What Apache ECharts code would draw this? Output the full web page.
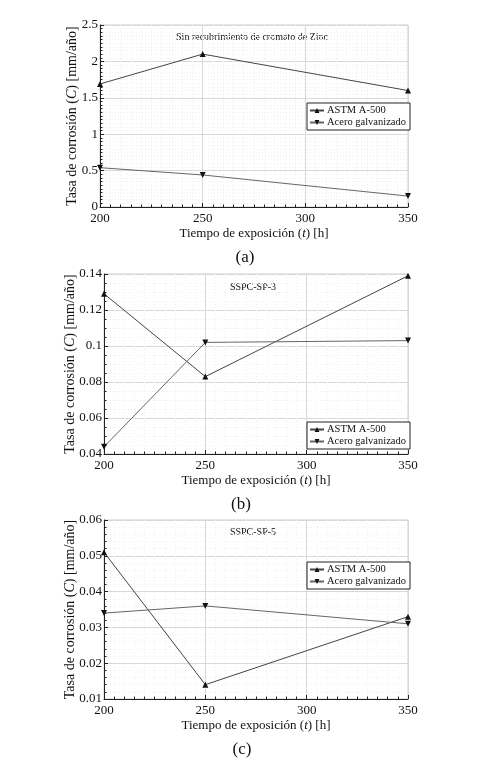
<!DOCTYPE html>
<html>
<head>
<meta charset="utf-8">
<script src="https://cdn.jsdelivr.net/npm/echarts@6/dist/echarts.min.js"></script>
<style>
html,body{margin:0;padding:0;background:#fff;}
#chart{width:491px;height:767px;}
</style>
</head>
<body>
<div id="chart"></div>
<script>
const times = [200, 250, 350];
const astmA = [1.69, 2.10, 1.60];
const galvA = [0.54, 0.44, 0.15];
const astmB = [0.129, 0.083, 0.139];
const galvB = [0.044, 0.102, 0.103];
const astmC = [0.051, 0.014, 0.033];
const galvC = [0.034, 0.036, 0.031];
const seriesNames = ['ASTM A-500', 'Acero galvanizado'];
const subtitles = ['Sin recubrimiento de cromato de Zinc', 'SSPC-SP-3', 'SSPC-SP-5'];
const panelLabels = ['(a)', '(b)', '(c)'];
const xTitle = 'Tiempo de exposición ({i|t}) [h]';
const yTitle = 'Tasa de corrosión ({i|C}) [mm/año]';
const yRanges = [[0, 2.5, 0.5, 10], [0.04, 0.14, 0.02, 4], [0.01, 0.06, 0.01, 5]];

const FONT = 'Liberation Serif';
const grids = [
  {left: 100, right: 83, top: 25, height: 182},
  {left: 104, right: 83, top: 274, height: 180},
  {left: 104, right: 83, top: 520, height: 179}
];
const yNameGaps = [21, 27, 27];

function xAxis(i) {
  return {
    type: 'value', gridIndex: i, min: 200, max: 350, interval: 50,
    name: xTitle, nameLocation: 'middle', nameGap: 20, nameMoveOverlap: false,
    nameTextStyle: {fontFamily: FONT, fontSize: 13, color: '#111', rich: {i: {fontFamily: FONT, fontSize: 13, fontStyle: 'italic', color: '#111'}}},
    axisLine: {show: true, onZero: false, lineStyle: {color: '#222', width: 1}},
    axisTick: {show: true, inside: true, length: 4, lineStyle: {color: '#222'}},
    minorTick: {show: true, splitNumber: 10, length: 2.5, lineStyle: {color: '#222'}},
    axisLabel: {fontFamily: FONT, fontSize: 13, color: '#111', margin: 5},
    splitLine: {show: true, lineStyle: {color: '#d8d8d8', width: 1}},
    minorSplitLine: {show: true, lineStyle: {color: '#f0f0f0', type: [1, 2], width: 1}}
  };
}
function yAxis(i) {
  const r = yRanges[i];
  return {
    type: 'value', gridIndex: i, min: r[0], max: r[1], interval: r[2],
    name: yTitle, nameLocation: 'middle', nameGap: yNameGaps[i], nameMoveOverlap: false,
    nameTextStyle: {fontFamily: FONT, fontSize: 14, color: '#111', rich: {i: {fontFamily: FONT, fontSize: 14, fontStyle: 'italic', color: '#111'}}},
    axisLine: {show: true, onZero: false, lineStyle: {color: '#222', width: 1}},
    axisTick: {show: true, inside: true, length: 4, lineStyle: {color: '#222'}},
    minorTick: {show: true, splitNumber: r[3], length: 2.5, lineStyle: {color: '#222'}},
    axisLabel: {fontFamily: FONT, fontSize: 13, color: '#111', margin: 2},
    splitLine: {show: true, lineStyle: {color: '#d8d8d8', width: 1}},
    minorSplitLine: {show: true, lineStyle: {color: '#f0f0f0', type: [1, 2], width: 1}}
  };
}
function pairs(vals) { return times.map((t, k) => [t, vals[k]]); }
function lineSeries(i, name, vals, down, color) {
  return {
    type: 'line', name: name, xAxisIndex: i, yAxisIndex: i,
    data: pairs(vals),
    symbol: 'triangle', symbolSize: 6, symbolRotate: down ? 180 : 0,
    showAllSymbol: true,
    lineStyle: {color: color, width: 1},
    itemStyle: {color: '#111'},
    emphasis: {disabled: true},
    animation: false, z: 3
  };
}
const legendTops = [103, 422, 562];
function legend(i) {
  return {
    show: true, orient: 'vertical', left: 307, top: legendTops[i],
    data: seriesNames,
    borderColor: '#222', borderWidth: 1, borderRadius: 0,
    padding: [2, 4, 2, 2], itemGap: 1,
    itemWidth: 14, itemHeight: 6,
    backgroundColor: '#fff',
    textStyle: {fontFamily: FONT, fontSize: 10.5, color: '#111', padding: [0, 0, 0, -2]},
    selectedMode: false
  };
}
const subPos = [[252, 37], [253, 287], [253, 532]];
const panPos = [[245, 258], [241, 505], [242, 750]];
const graphics = [];
for (let i = 0; i < 3; i++) {
  graphics.push({type: 'text', silent: true, style: {text: subtitles[i], x: subPos[i][0], y: subPos[i][1], textAlign: 'center', textVerticalAlign: 'middle', font: '10px "' + FONT + '"', fill: '#111'}});
  graphics.push({type: 'text', silent: true, style: {text: panelLabels[i], x: panPos[i][0], y: panPos[i][1], textAlign: 'center', textVerticalAlign: 'middle', font: '17px "' + FONT + '"', fill: '#111'}});
}
const astm = [astmA, astmB, astmC];
const galv = [galvA, galvB, galvC];
const series = [];
for (let i = 0; i < 3; i++) {
  series.push(lineSeries(i, seriesNames[0], astm[i], false, '#444'));
  series.push(lineSeries(i, seriesNames[1], galv[i], true, '#666'));
}
const chart = echarts.init(document.getElementById('chart'), null, {renderer: 'canvas'});
chart.setOption({
  backgroundColor: '#fff',
  animation: false,
  grid: grids.map(g => Object.assign({show: true, borderColor: '#cfcfcf', borderWidth: 1, backgroundColor: 'transparent'}, g)),
  xAxis: [0, 1, 2].map(xAxis),
  yAxis: [0, 1, 2].map(yAxis),
  legend: [0, 1, 2].map(legend),
  graphic: graphics,
  series: series
});
</script>
</body>
</html>
